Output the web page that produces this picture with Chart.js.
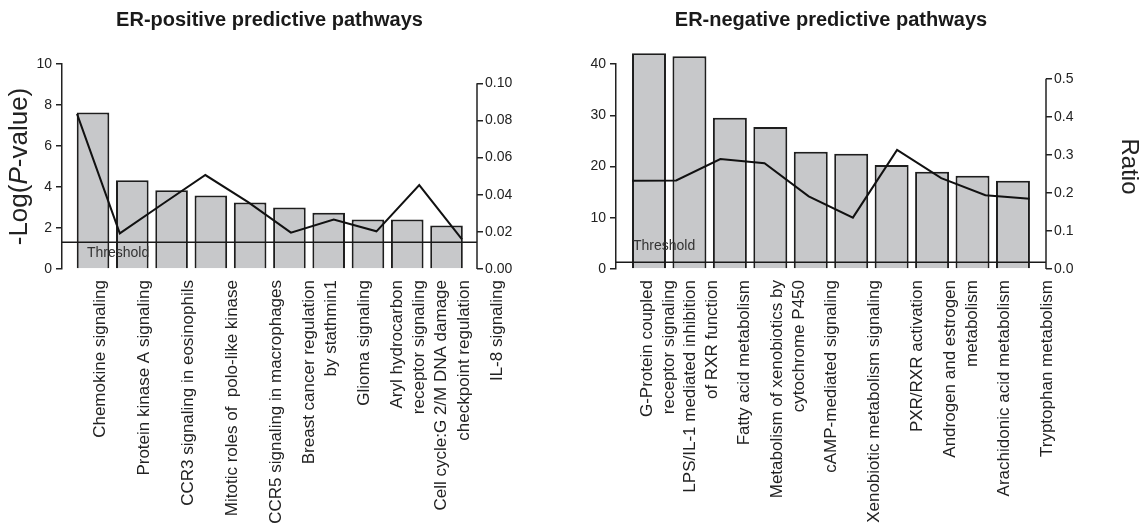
<!DOCTYPE html>
<html>
<head>
<meta charset="utf-8">
<script src="https://cdn.jsdelivr.net/npm/chart.js@4.4.1/dist/chart.umd.min.js"></script>
<style>
	body { margin: 0; background: #fff; overflow: hidden; }
	#main { position: relative; width: 1143px; height: 529px; }
	canvas { position: absolute; top: 0; }
</style>
</head>
<body>
<div id="main">
	<canvas id="pos" width="571" height="529" style="left:0"></canvas>
	<canvas id="neg" width="572" height="529" style="left:571px"></canvas>
</div>
<script>
const FONT = '"Liberation Sans", Arial, Helvetica, sans-serif'

const posLabels = [
	"Chemokine signaling",
	"Protein kinase A signaling",
	"CCR3 signaling in eosinophils",
	"Mitotic roles of  polo-like kinase",
	"CCR5 signaling in macrophages",
	["Breast cancer regulation", "by stathmin1"],
	"Glioma signaling",
	["Aryl hydrocarbon", "receptor signaling"],
	["Cell cycle:G 2/M DNA damage", "checkpoint regulation"],
	"IL-8 signaling"
]
const posLogP = [7.64, 4.33, 3.84, 3.58, 3.24, 3.00, 2.75, 2.41, 2.41, 2.12]
const posRatio = [0.0835, 0.0192, 0.035, 0.0506, 0.036, 0.0196, 0.0267, 0.0203, 0.0452, 0.016]

const negLabels = [
	["G-Protein coupled", "receptor signaling"],
	["LPS/IL-1 mediated inhibition", "of RXR function"],
	"Fatty acid metabolism",
	["Metabolism of xenobiotics by", "cytochrome P450"],
	"cAMP-mediated signaling",
	"Xenobiotic metabolism signaling",
	"PXR/RXR activation",
	["Androgen and estrogen", "metabolism"],
	"Arachidonic acid metabolism",
	"Tryptophan metabolism"
]
const negLogP = [42.1, 41.5, 29.5, 27.7, 22.9, 22.5, 20.3, 19.0, 18.2, 17.2]
const negRatio = [0.232, 0.233, 0.289, 0.278, 0.191, 0.135, 0.313, 0.239, 0.194, 0.185]

const threshold = 1.3

Chart.defaults.font.family = FONT
Chart.defaults.color = '#222'

function indexed(values) {
	return values.map((v, i) => ({x: i, y: v}))
}

// one tick per category, the bar width is taken from the tick spacing
function oneTickEach(values) {
	return scale => {
		scale.ticks = values.map((v, i) => ({value: i}))
	}
}

// multi-line labels grow to the right of their tick, so shift them back to keep the block centred
function labelTicks(labels) {
	return scale => {
		scale.ticks = labels.map((l, i) => ({value: i - (Array.isArray(l) ? (l.length - 1) * 0.25 : 0)}))
	}
}

const decor = {
	id: 'decor',
	afterDatasetsDraw(chart, args, opts) {
		const ctx = chart.ctx
		const area = chart.chartArea
		const ty = chart.scales.y.getPixelForValue(opts.threshold)
		ctx.save()
		ctx.strokeStyle = '#1a1a1a'
		ctx.lineWidth = 1.5
		ctx.beginPath()
		ctx.moveTo(area.left, ty)
		ctx.lineTo(area.right, ty)
		ctx.stroke()
		ctx.fillStyle = '#333'
		ctx.font = '14px ' + FONT
		ctx.textBaseline = 'middle'
		ctx.fillText('Threshold', opts.textX, ty + opts.textDy)
		ctx.restore()
	},
	afterDraw(chart, args, opts) {
		const ctx = chart.ctx
		const area = chart.chartArea
		ctx.save()
		// right axis line only runs up to its last tick
		const r = chart.scales.y1
		const top = r.getPixelForValue(r.ticks[r.ticks.length - 1].value)
		ctx.strokeStyle = '#222'
		ctx.lineWidth = 1.5
		ctx.beginPath()
		ctx.moveTo(r.left, r.getPixelForValue(0))
		ctx.lineTo(r.left, top)
		ctx.stroke()

		ctx.fillStyle = '#1a1a1a'
		ctx.font = 'bold 20px ' + FONT
		ctx.textAlign = 'center'
		ctx.textBaseline = 'middle'
		ctx.fillText(opts.title, (area.left + area.right) / 2, 20)

		if (opts.yTitle) {
			ctx.translate(opts.yTitleX, (area.top + area.bottom) / 2)
			ctx.rotate(-Math.PI / 2)
			const parts = opts.yTitle
			const fonts = parts.map(p => (p[1] ? 'italic ' : '') + '26px ' + FONT)
			let widths = parts.map((p, i) => { ctx.font = fonts[i]; return ctx.measureText(p[0]).width })
			let x = -widths.reduce((a, b) => a + b, 0) / 2
			ctx.textAlign = 'left'
			ctx.fillStyle = '#222'
			parts.forEach((p, i) => {
				ctx.font = fonts[i]
				ctx.fillText(p[0], x, 0)
				x += widths[i]
			})
		}
		ctx.restore()
	}
}

function makeChart(id, o) {
	const tickFont = {size: 14}
	const axisGrid = {display: true, drawOnChartArea: false, color: '#222', lineWidth: 1.5, tickLength: 6}
	return new Chart(document.getElementById(id).getContext('2d'), {
		type: 'bar',
		data: {
			datasets: [
				{
					type: 'line',
					data: indexed(o.ratio),
					xAxisID: 'xl',
					yAxisID: 'y1',
					borderColor: '#111',
					borderWidth: 2,
					pointRadius: 0,
					tension: 0,
					fill: false,
					clip: false,
					order: 1
				},
				{
					data: indexed(o.logP),
					xAxisID: 'xb',
					yAxisID: 'y',
					backgroundColor: '#c7c8ca',
					borderColor: '#1e1e1e',
					borderWidth: 2,
					grouped: false,
					barPercentage: o.barPct,
					categoryPercentage: 1,
					clip: false,
					order: 2
				}
			]
		},
		options: {
			responsive: false,
			animation: false,
			layout: {padding: {top: 64, left: 0, right: 0, bottom: 0}},
			plugins: {
				legend: {display: false},
				tooltip: {enabled: false},
				decor: {
					threshold,
					title: o.title,
					yTitle: o.yTitle,
					yTitleX: 20,
					textX: o.textX,
					textDy: o.textDy
				}
			},
			scales: {
				xb: {
					type: 'linear', display: false, offset: false, min: o.xb[0], max: o.xb[1],
					afterBuildTicks: oneTickEach(o.logP)
				},
				xl: {
					type: 'linear', display: false, offset: false, min: o.xl[0], max: o.xl[1],
					afterBuildTicks: oneTickEach(o.ratio)
				},
				xlab: {
					type: 'linear',
					position: 'bottom',
					offset: false,
					min: o.xlab[0],
					max: o.xlab[1],
					afterBuildTicks: labelTicks(o.labels),
					afterFit: s => { s.height = 260 },
					grid: {display: false},
					border: {display: false},
					ticks: {
						autoSkip: false,
						minRotation: 90,
						maxRotation: 90,
						padding: 3,
						font: {size: 17, lineHeight: 1.3},
						color: '#222',
						callback: (v, i) => o.labels[i]
					}
				},
				y: {
					position: 'left',
					min: 0,
					max: o.yMax,
					afterFit: s => { s.width = o.yWidth },
					border: {display: true, color: '#222', width: 1.5},
					grid: axisGrid,
					ticks: {stepSize: o.yStep, includeBounds: false, font: tickFont, padding: 4}
				},
				y1: {
					position: 'right',
					min: 0,
					max: o.y1Max,
					afterFit: s => { s.width = o.y1Width },
					border: {display: false},
					grid: axisGrid,
					title: {display: !!o.ratioTitle, text: o.ratioTitle, font: {size: 24}, color: '#222', padding: 0},
					ticks: {
						stepSize: o.y1Step,
						includeBounds: false,
						font: tickFont,
						padding: 2,
						callback: v => v.toFixed(o.y1Digits)
					}
				}
			}
		},
		plugins: [decor]
	})
}

makeChart('pos', {
	title: 'ER-positive predictive pathways',
	yTitle: [['-Log(', false], ['P', true], ['-value)', false]],
	labels: posLabels,
	logP: posLogP,
	ratio: posRatio,
	yMax: 10,
	yStep: 2,
	y1Max: 0.1104,
	y1Step: 0.02,
	y1Digits: 2,
	yWidth: 62,
	y1Width: 94,
	xb: [-0.79, 9.776],
	xl: [-0.351, 9.35],
	xlab: [-0.862, 8.548],
	barPct: 0.83,
	textX: 87,
	textDy: 11
})

makeChart('neg', {
	title: 'ER-negative predictive pathways',
	ratioTitle: 'Ratio',
	labels: negLabels,
	logP: negLogP,
	ratio: negRatio,
	yMax: 40,
	yStep: 10,
	y1Max: 0.539,
	y1Step: 0.1,
	y1Digits: 1,
	yWidth: 45,
	y1Width: 97,
	xb: [-0.816, 9.817],
	xl: [-0.362, 9.371],
	xlab: [-0.979, 8.975],
	barPct: 0.84,
	textX: 62,
	textDy: -16.5
})
</script>
</body>
</html>
